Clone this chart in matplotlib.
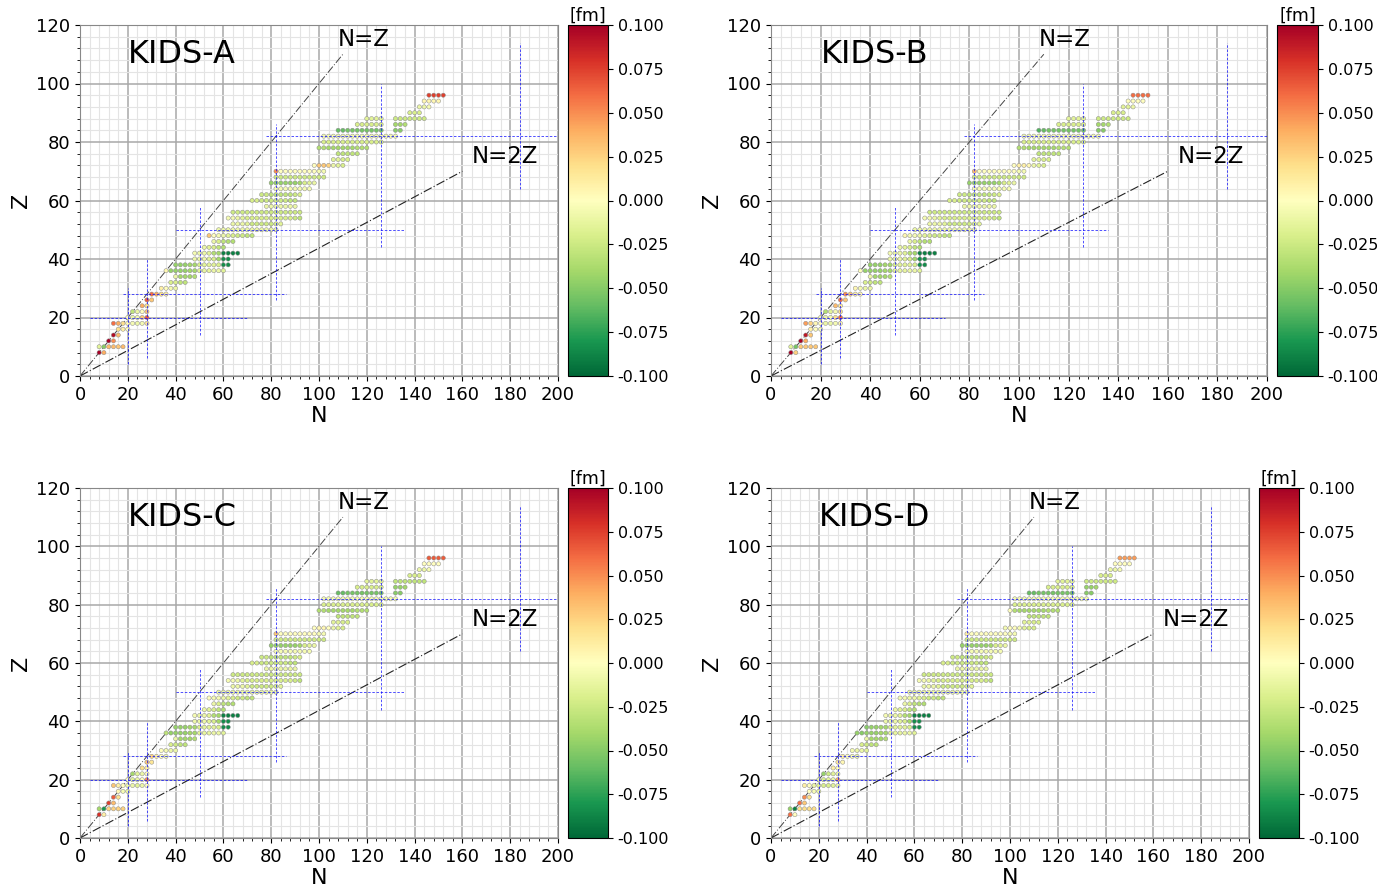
"""
charge radius residuals of even-even nuclei for four KIDS models
"""
import numpy as np
import matplotlib
matplotlib.use('Agg')
import matplotlib.pyplot as plt

# rows of measured nuclei: proton number Z, neutrons from n0 to n1 in steps of 2
seg_z = [8, 10, 12, 14, 16, 18, 20, 22, 24, 26, 28, 30, 32, 34, 36, 38,
         40, 42, 44, 46, 48, 50, 52, 54, 56, 58, 60, 62, 64, 66, 68, 70,
         72, 74, 76, 78, 80, 82, 84, 84, 86, 86, 88, 88, 90, 92, 94, 96]
seg_n0 = [8, 8, 12, 14, 16, 14, 20, 22, 26, 28, 30, 34, 38, 40, 36, 40,
          48, 48, 52, 56, 54, 58, 64, 62, 64, 78, 72, 76, 82, 80, 82, 82,
          98, 106, 108, 100, 102, 102, 108, 132, 116, 132, 120, 132, 138, 142, 144, 146]
seg_n1 = [10, 18, 14, 16, 20, 28, 28, 28, 28, 30, 36, 40, 44, 48, 60, 62,
          62, 66, 60, 64, 72, 82, 84, 92, 92, 90, 90, 92, 96, 98, 102, 102,
          110, 112, 116, 120, 126, 132, 126, 134, 126, 136, 126, 144, 142, 146, 150, 152]

# residuals in fm, one entry per row (a single number = whole row same colour)
res_a = [
    [0.10, 0.04],
    [-0.015, -0.05, 0.035, 0.035, 0.03, 0.035],
    [0.10, 0.05],
    [0.095, 0.035],
    [0.02, 0.01, 0.0],
    [0.06, 0.04, 0.02, 0.005, -0.005, -0.01, -0.005, 0.015],
    [0.0, -0.01, -0.005, 0.03, 0.065],
    [-0.03, -0.01, 0.0, 0.03],
    [0.04, 0.02],
    [0.065, 0.03],
    [0.06, 0.04, 0.02, 0.01],
    [0.01, 0.0, -0.005, -0.01],
    [-0.02, -0.02, -0.03, -0.03],
    [-0.01, -0.04, -0.04, -0.04, -0.035],
    [0.005, -0.045, -0.045, -0.045, -0.045, -0.04, -0.04, -0.015, -0.012, -0.012, -0.01, -0.01, -0.015],
    [-0.045, -0.045, -0.045, -0.04, -0.04, -0.02, -0.015, -0.015, -0.015, -0.02, -0.085, -0.085],
    [-0.01, -0.01, -0.01, -0.015, -0.02, -0.04, -0.085, -0.085],
    [-0.005, -0.01, -0.01, -0.015, -0.035, -0.04, -0.09, -0.09, -0.09, -0.09],
    [-0.01, -0.015, -0.02, -0.03, -0.035],
    [-0.01, -0.02, -0.03, -0.035, -0.035],
    [0.03, 0.0, -0.005, -0.01, -0.015, -0.02, -0.025, -0.025, -0.03, -0.03],
    -0.01,
    [-0.01, -0.01, -0.01, -0.015, -0.025, -0.025, -0.025, -0.025, -0.025, -0.02, -0.015],
    [-0.005, -0.005, -0.01, -0.015, -0.02, -0.02, -0.02, -0.02, -0.02, -0.02, -0.02, -0.02, -0.02, -0.02, -0.025, -0.03],
    -0.025,
    -0.01,
    [-0.02, -0.02, -0.025, -0.025, -0.025, -0.025, -0.025, -0.025, -0.03, -0.03],
    [-0.025, -0.025, -0.03, -0.03, -0.03, -0.03, -0.03, -0.025, -0.02],
    -0.005,
    [-0.045, -0.045, -0.045, -0.045, -0.045, -0.045, -0.04, -0.02, -0.015, -0.01],
    -0.025,
    [0.05, 0.0, 0.0, 0.0, 0.0, 0.0, 0.0, 0.0, 0.0, -0.005, -0.005],
    [0.0, 0.03, 0.03, 0.025, -0.01, -0.015, -0.02],
    [-0.015, -0.015, -0.02, -0.02],
    -0.03,
    [-0.035, -0.035, -0.04, -0.04, -0.04, -0.04, -0.04, -0.04, -0.035, -0.035, -0.035],
    -0.02,
    -0.005,
    [-0.06, -0.06, -0.055, -0.055, -0.055, -0.055, -0.055, -0.055, -0.055, -0.055],
    -0.05,
    -0.02,
    [-0.04, -0.04, -0.035],
    -0.015,
    -0.025,
    -0.02,
    [-0.01, -0.01, -0.005],
    0.005,
    0.075,
]

res_b = [
    [0.10, 0.025],
    [-0.015, -0.055, 0.03, 0.03, 0.03, 0.03],
    [0.10, 0.04],
    [0.09, 0.03],
    [0.01, 0.0, -0.005],
    [0.045, 0.025, 0.005, 0.0, -0.01, -0.01, -0.005, 0.005],
    [-0.005, -0.01, -0.005, 0.02, 0.06],
    [-0.035, -0.015, -0.005, 0.02],
    [0.035, 0.015],
    [0.06, 0.03],
    [0.05, 0.03, 0.01, 0.005],
    [0.005, -0.005, -0.01, -0.01],
    [-0.02, -0.025, -0.03, -0.03],
    [-0.01, -0.04, -0.04, -0.04, -0.035],
    [0.0, -0.045, -0.045, -0.045, -0.045, -0.04, -0.04, -0.015, -0.012, -0.012, -0.01, -0.01, -0.015],
    [-0.045, -0.045, -0.045, -0.04, -0.04, -0.02, -0.015, -0.015, -0.015, -0.02, -0.085, -0.085],
    [-0.01, -0.01, -0.01, -0.015, -0.02, -0.04, -0.085, -0.085],
    [-0.005, -0.01, -0.01, -0.015, -0.035, -0.04, -0.09, -0.09, -0.09, -0.09],
    [-0.01, -0.015, -0.02, -0.03, -0.035],
    [-0.01, -0.02, -0.03, -0.035, -0.035],
    [0.005, -0.005, -0.005, -0.01, -0.015, -0.02, -0.025, -0.025, -0.03, -0.03],
    -0.01,
    [-0.01, -0.01, -0.01, -0.015, -0.025, -0.025, -0.025, -0.025, -0.025, -0.02, -0.015],
    [-0.005, -0.005, -0.01, -0.015, -0.02, -0.02, -0.02, -0.02, -0.02, -0.02, -0.02, -0.02, -0.02, -0.02, -0.025, -0.03],
    -0.025,
    -0.01,
    [-0.02, -0.02, -0.025, -0.025, -0.025, -0.025, -0.025, -0.025, -0.03, -0.03],
    [-0.025, -0.025, -0.03, -0.03, -0.03, -0.03, -0.03, -0.025, -0.02],
    -0.005,
    [-0.045, -0.045, -0.045, -0.045, -0.045, -0.045, -0.04, -0.02, -0.015, -0.01],
    -0.025,
    [0.035, 0.0, 0.0, 0.0, 0.0, 0.0, 0.0, 0.0, 0.0, -0.005, -0.005],
    [0.0, 0.01, 0.01, 0.005, -0.01, -0.015, -0.02],
    [-0.015, -0.015, -0.02, -0.02],
    -0.03,
    [-0.035, -0.035, -0.04, -0.04, -0.04, -0.04, -0.04, -0.04, -0.035, -0.035, -0.035],
    -0.02,
    -0.005,
    [-0.065, -0.06, -0.055, -0.055, -0.055, -0.055, -0.055, -0.055, -0.055, -0.055],
    -0.05,
    -0.02,
    [-0.04, -0.04, -0.035],
    -0.015,
    -0.025,
    -0.02,
    [-0.015, -0.015, -0.01],
    0.0,
    0.06,
]

res_c = [
    [0.08, 0.01],
    [-0.04, -0.08, 0.025, 0.025, 0.025, 0.025],
    [0.075, 0.035],
    [0.065, 0.02],
    [0.005, -0.005, -0.01],
    [0.03, 0.01, 0.0, -0.01, -0.01, -0.015, -0.01, 0.0],
    [0.0, -0.015, -0.01, 0.0, 0.05],
    [-0.04, -0.015, -0.01, 0.0],
    [0.02, 0.01],
    [0.03, 0.015],
    [0.025, 0.01, 0.0, -0.005],
    [0.0, -0.005, -0.01, -0.01],
    [-0.02, -0.025, -0.03, -0.03],
    [-0.01, -0.04, -0.04, -0.04, -0.035],
    [-0.03, -0.045, -0.045, -0.045, -0.045, -0.04, -0.04, -0.015, -0.012, -0.012, -0.01, -0.01, -0.015],
    [-0.045, -0.045, -0.045, -0.04, -0.04, -0.02, -0.015, -0.015, -0.015, -0.02, -0.085, -0.085],
    [-0.01, -0.01, -0.01, -0.015, -0.02, -0.04, -0.085, -0.085],
    [-0.005, -0.01, -0.01, -0.015, -0.035, -0.04, -0.09, -0.09, -0.09, -0.09],
    [-0.01, -0.015, -0.02, -0.03, -0.035],
    [-0.01, -0.02, -0.03, -0.035, -0.035],
    [0.0, -0.005, -0.005, -0.01, -0.015, -0.02, -0.025, -0.025, -0.03, -0.03],
    -0.01,
    [-0.01, -0.01, -0.01, -0.015, -0.025, -0.025, -0.025, -0.025, -0.025, -0.02, -0.015],
    [-0.005, -0.005, -0.01, -0.015, -0.02, -0.02, -0.02, -0.02, -0.02, -0.02, -0.02, -0.02, -0.02, -0.02, -0.025, -0.03],
    -0.025,
    -0.01,
    [-0.02, -0.02, -0.025, -0.025, -0.025, -0.025, -0.025, -0.025, -0.03, -0.03],
    [-0.025, -0.025, -0.03, -0.03, -0.03, -0.03, -0.03, -0.025, -0.02],
    -0.005,
    [-0.045, -0.045, -0.045, -0.045, -0.045, -0.045, -0.04, -0.02, -0.015, -0.01],
    -0.025,
    [0.03, 0.0, 0.0, 0.0, 0.0, 0.0, 0.0, 0.0, 0.0, -0.005, -0.005],
    [0.0, 0.005, 0.005, 0.0, -0.01, -0.015, -0.02],
    [-0.015, -0.015, -0.02, -0.02],
    -0.03,
    [-0.035, -0.035, -0.04, -0.04, -0.04, -0.04, -0.04, -0.04, -0.035, -0.035, -0.035],
    -0.02,
    -0.005,
    [-0.06, -0.06, -0.055, -0.055, -0.055, -0.055, -0.055, -0.055, -0.055, -0.055],
    -0.05,
    -0.02,
    [-0.045, -0.045, -0.04],
    -0.015,
    -0.03,
    -0.02,
    [-0.01, -0.01, -0.005],
    0.0,
    0.065,
]

res_d = [
    [0.06, 0.0],
    [-0.045, -0.09, 0.02, 0.02, 0.02, 0.02],
    [0.06, 0.03],
    [0.05, 0.02],
    [0.0, -0.005, -0.01],
    [0.01, 0.0, -0.01, -0.015, -0.02, -0.02, -0.015, -0.01],
    [-0.01, -0.02, -0.015, -0.01, 0.04],
    [-0.045, -0.025, -0.015, -0.01],
    [0.01, 0.0],
    [0.015, 0.005],
    [0.01, 0.0, -0.005, -0.01],
    [-0.005, -0.01, -0.01, -0.015],
    [-0.02, -0.025, -0.03, -0.03],
    [-0.01, -0.04, -0.04, -0.04, -0.035],
    [-0.045, -0.05, -0.045, -0.045, -0.045, -0.04, -0.04, -0.015, -0.012, -0.012, -0.01, -0.01, -0.015],
    [-0.05, -0.045, -0.045, -0.04, -0.04, -0.02, -0.015, -0.015, -0.015, -0.02, -0.085, -0.085],
    [-0.01, -0.01, -0.01, -0.015, -0.02, -0.04, -0.085, -0.085],
    [-0.005, -0.01, -0.01, -0.015, -0.035, -0.04, -0.09, -0.09, -0.09, -0.09],
    [-0.01, -0.015, -0.02, -0.03, -0.035],
    [-0.01, -0.02, -0.03, -0.035, -0.035],
    [-0.005, -0.005, -0.01, -0.01, -0.015, -0.02, -0.025, -0.025, -0.03, -0.03],
    -0.01,
    [-0.01, -0.01, -0.01, -0.015, -0.025, -0.025, -0.025, -0.025, -0.025, -0.02, -0.015],
    [-0.005, -0.005, -0.01, -0.015, -0.02, -0.02, -0.02, -0.02, -0.02, -0.02, -0.02, -0.02, -0.02, -0.02, -0.025, -0.03],
    -0.025,
    -0.01,
    [-0.02, -0.02, -0.025, -0.025, -0.025, -0.025, -0.025, -0.025, -0.03, -0.03],
    [-0.025, -0.025, -0.03, -0.03, -0.03, -0.03, -0.03, -0.025, -0.02],
    -0.005,
    [-0.045, -0.045, -0.045, -0.045, -0.045, -0.045, -0.04, -0.02, -0.015, -0.01],
    -0.025,
    [0.01, 0.0, 0.0, 0.0, 0.0, 0.0, 0.0, 0.0, 0.0, -0.005, -0.005],
    [-0.005, 0.0, 0.0, -0.005, -0.015, -0.02, -0.02],
    [-0.015, -0.015, -0.02, -0.02],
    -0.03,
    [0.0, -0.035, -0.04, -0.04, -0.04, -0.04, -0.04, -0.04, -0.035, -0.035, -0.035],
    -0.02,
    -0.005,
    [-0.06, -0.06, -0.055, -0.055, -0.055, -0.055, -0.055, -0.055, -0.055, -0.055],
    -0.05,
    -0.02,
    [-0.045, -0.045, -0.04],
    -0.015,
    -0.025,
    -0.02,
    [-0.01, -0.01, -0.005],
    0.0,
    0.045,
]

# magic number guide lines: (magic number, from, to)
magic_z = [(20, 4, 70), (28, 18, 86), (50, 40, 136), (82, 78, 200)]
magic_n = [(20, 4, 30), (28, 6, 40), (50, 14, 58), (82, 26, 86), (126, 44, 100), (184, 64, 114)]

panel_names = ['KIDS-A', 'KIDS-B', 'KIDS-C', 'KIDS-D']
panel_res = [res_a, res_b, res_c, res_d]

W, H = 1377, 886
# pixel boxes: axes (left, top, right, bottom), colorbar (left, right)
ax_boxes = [(80, 25, 558, 376), (771, 25, 1267, 376), (80, 488, 558, 838), (771, 488, 1249, 838)]
cb_boxes = [(568, 608), (1277, 1318), (568, 608), (1259, 1299)]


def to_frac(l, t, r, b):
    return [l / W, 1 - b / H, (r - l) / W, (b - t) / H]


def expand(res):
    n_all, z_all, r_all = [], [], []
    for z, n0, n1, r in zip(seg_z, seg_n0, seg_n1, res):
        ns = list(range(n0, n1 + 1, 2))
        if np.isscalar(r):
            r = [r] * len(ns)
        assert len(r) == len(ns), (z, n0, n1, len(r))
        n_all += ns
        z_all += [z] * len(ns)
        r_all += list(r)
    return n_all, z_all, r_all


def draw_panel(ax, cax, name, res):
    n, z, r = expand(res)
    ax.set_xlim(0, 200)
    ax.set_ylim(0, 120)
    ax.set_xticks(range(0, 201, 20))
    ax.set_xticks(range(0, 201, 4), minor=True)
    ax.set_yticks(range(0, 121, 20))
    ax.set_yticks(range(0, 121, 4), minor=True)
    ax.grid(which='major', color='#a8a8a8', lw=1.1, zorder=0)
    ax.grid(which='minor', color='#e4e4e4', lw=0.8, zorder=0)
    ax.set_axisbelow(True)
    ax.tick_params(labelsize=13)
    for s in ax.spines.values():
        s.set_color('#888888')

    ax.plot([0, 110], [0, 110], color='#444444', lw=0.7, ls=(0, (8, 2, 1, 2)), zorder=1)
    ax.plot([0, 160], [0, 70], color='#222222', lw=0.8, ls=(0, (8, 2, 1, 2)), zorder=1)

    sc = ax.scatter(n, z, c=r, cmap='RdYlGn_r', vmin=-0.1, vmax=0.1, s=9,
                    edgecolors='#8c8c8c', linewidths=0.35, zorder=3)

    for m, a, b in magic_z:
        ax.plot([a, b], [m, m], color='blue', ls=(0, (3, 2)), lw=0.6, alpha=0.8, zorder=4)
    for m, a, b in magic_n:
        ax.plot([m, m], [a, b], color='blue', ls=(0, (3, 2)), lw=0.6, alpha=0.8, zorder=4)

    ax.text(20, 110, name, fontsize=23, va='center')
    ax.text(108, 115, 'N=Z', fontsize=16.5, va='center')
    ax.text(164, 75, 'N=2Z', fontsize=16.5, va='center')
    ax.set_xlabel('N', fontsize=16, labelpad=2)
    ax.set_ylabel('Z', fontsize=16)

    cb = plt.colorbar(sc, cax=cax, ticks=np.linspace(-0.1, 0.1, 9), format='%.3f')
    cb.ax.tick_params(labelsize=11.5)
    cax.set_title('[fm]', fontsize=12.5, pad=3)


fig = plt.figure(figsize=(W / 100, H / 100), dpi=100)
for k in range(4):
    l, t, r, b = ax_boxes[k]
    ax = fig.add_axes(to_frac(l, t, r, b))
    cl, cr = cb_boxes[k]
    cax = fig.add_axes(to_frac(cl, t, cr, b))
    draw_panel(ax, cax, panel_names[k], panel_res[k])

fig.savefig('out.png', dpi=100)
